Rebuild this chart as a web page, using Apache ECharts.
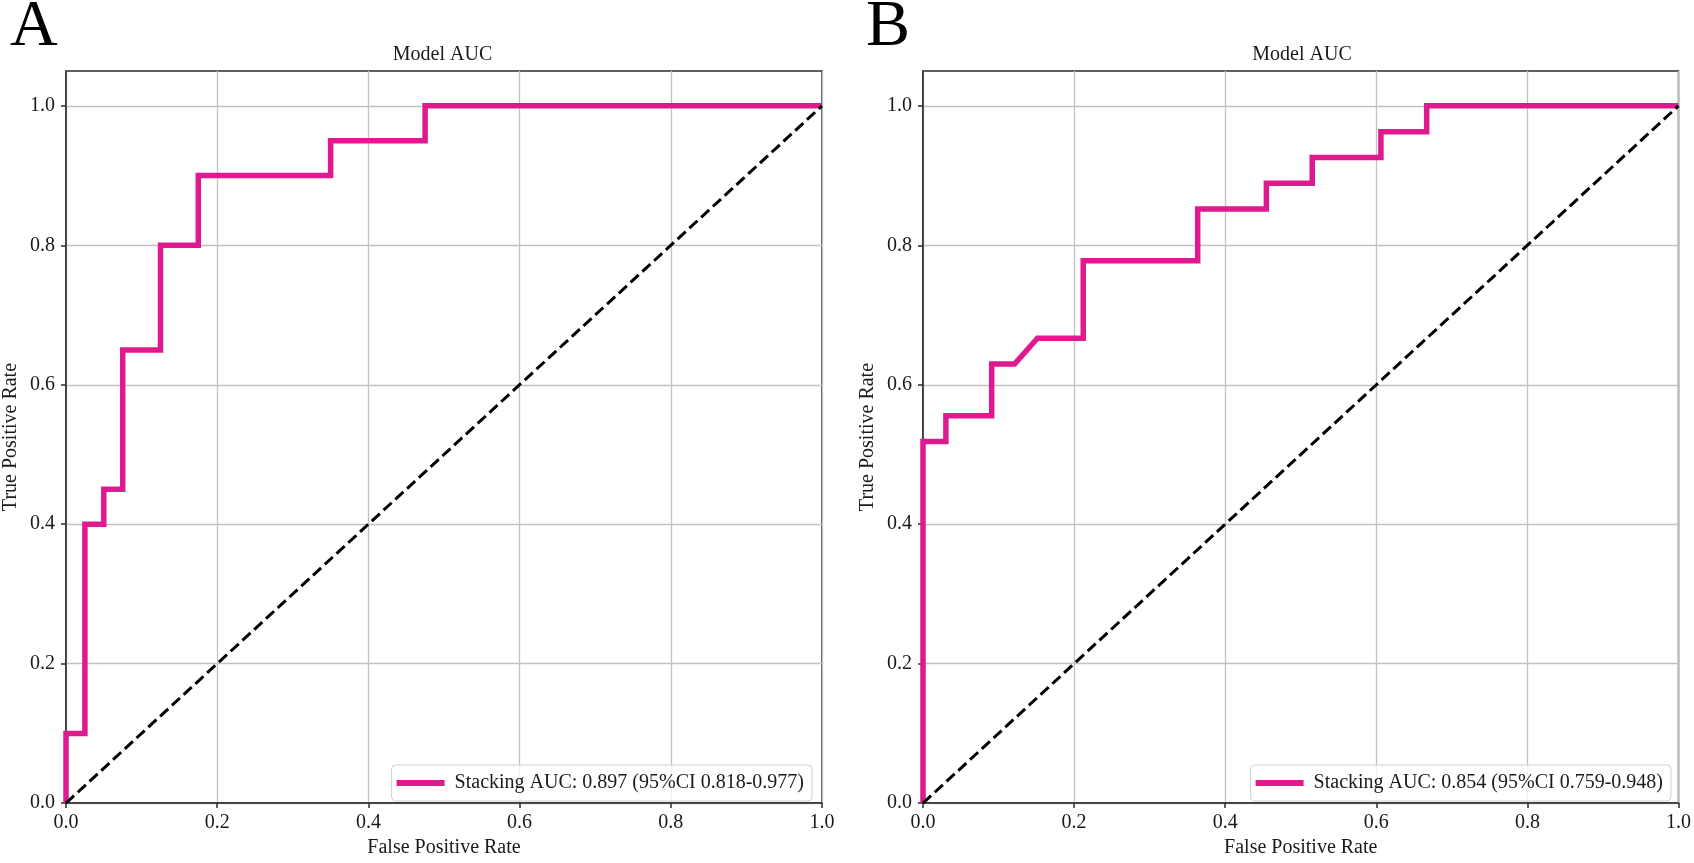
<!DOCTYPE html>
<html>
<head>
<meta charset="utf-8">
<script src="https://cdn.jsdelivr.net/npm/echarts@6/dist/echarts.min.js"></script>
<style>
html,body{margin:0;padding:0;background:#fff;}
#chart{width:1694px;height:863px;}
</style>
</head>
<body>
<div id="chart"></div>
<script>
// ---- data ----
const panelLetters = ['A', 'B'];
const panelTitles = ['Model AUC', 'Model AUC'];
const legendNames = [
  'Stacking AUC: 0.897 (95%CI 0.818-0.977)',
  'Stacking AUC: 0.854 (95%CI 0.759-0.948)'
];
const rocA_fpr = [0, 0, 0.025, 0.025, 0.05, 0.05, 0.075, 0.075, 0.125, 0.125, 0.175, 0.175, 0.35, 0.35, 0.475, 0.475, 1.0];
const rocA_tpr = [0, 0.1, 0.1, 0.4, 0.4, 0.45, 0.45, 0.65, 0.65, 0.8, 0.8, 0.9, 0.9, 0.95, 0.95, 1.0, 1.0];
const rocB_fpr = [0, 0, 0.0303, 0.0303, 0.0909, 0.0909, 0.1212, 0.1515, 0.2121, 0.2121, 0.3636, 0.3636, 0.4545, 0.4545, 0.5152, 0.5152, 0.6061, 0.6061, 0.6667, 0.6667, 1.0];
const rocB_tpr = [0, 0.5185, 0.5185, 0.5556, 0.5556, 0.6296, 0.6296, 0.6667, 0.6667, 0.7778, 0.7778, 0.8519, 0.8519, 0.8889, 0.8889, 0.9259, 0.9259, 0.963, 0.963, 1.0, 1.0];
const chanceX = [0, 1];
const chanceY = [0, 1];
const tickValues = [0, 0.2, 0.4, 0.6, 0.8, 1.0];
const xAxisName = 'False Positive Rate';
const yAxisName = 'True Positive Rate';

// ---- build ----
const FONT = 'Liberation Serif';
const PINK = '#de1a8e';
const grids = [
  {left: 63, top: 71, width: 759, height: 740},
  {left: 923, top: 71, width: 758, height: 740}
];
const zip = (xs, ys) => xs.map((x, i) => [x, ys[i]]);
const rocs = [zip(rocA_fpr, rocA_tpr), zip(rocB_fpr, rocB_tpr)];

function axisCommon(isX) {
  return {
    type: 'value',
    min: 0,
    max: isX ? 1.0 : 1.05,
    interval: 0.2,
    axisLine: {show: true, onZero: false, lineStyle: {color: '#2b2b2b', width: 1.5}},
    axisTick: {show: true, length: 5, customValues: tickValues, lineStyle: {color: '#2b2b2b', width: 1.5}},
    axisLabel: {
      customValues: tickValues,
      margin: isX ? 10 : 11,
      fontFamily: FONT, fontSize: 20, color: '#1a1a1a',
      formatter: v => v.toFixed(1)
    },
    splitLine: {show: true, lineStyle: {color: '#c2c2c2', width: 1.3}},
    name: isX ? xAxisName : yAxisName,
    nameLocation: 'middle',
    nameGap: isX ? 34 : 45,
    nameTextStyle: {fontFamily: FONT, fontSize: 20, color: '#1a1a1a'}
  };
}

const option = {
  animation: false,
  backgroundColor: '#ffffff',
  title: [],
  grid: grids.map(g => Object.assign({show: true, borderColor: '#2b2b2b', borderWidth: 1.5, backgroundColor: 'transparent'}, g)),
  xAxis: grids.map((g, i) => Object.assign(axisCommon(true), {gridIndex: i})),
  yAxis: grids.map((g, i) => Object.assign(axisCommon(false), {gridIndex: i})),
  legend: grids.map((g, i) => ({
    data: [legendNames[i]],
    right: 1694 - (g.left + g.width) + 10,
    bottom: 863 - (g.top + g.height) + 10,
    orient: 'vertical',
    icon: 'rect',
    itemWidth: 48,
    itemHeight: 6,
    padding: [8, 8, 8, 5],
    backgroundColor: 'rgba(255,255,255,0.8)',
    borderColor: '#d0d0d0',
    borderWidth: 1,
    borderRadius: 4,
    selectedMode: false,
    formatter: n => ' ' + n,
    textStyle: {fontFamily: FONT, fontSize: 20, color: '#1a1a1a'}
  })),
  series: []
};

grids.forEach((g, i) => {
  option.title.push({
    text: panelTitles[i],
    left: g.left + g.width / 2,
    top: 45,
    textAlign: 'center',
    padding: 0,
    textStyle: {fontFamily: FONT, fontSize: 20, fontWeight: 'normal', color: '#1a1a1a'}
  });
  option.title.push({
    text: panelLetters[i],
    left: i === 0 ? 10 : 866,
    top: -5,
    padding: 0,
    textStyle: {fontFamily: FONT, fontSize: 66, fontWeight: 'normal', color: '#000'}
  });
  option.series.push({
    name: legendNames[i],
    type: 'line',
    xAxisIndex: i, yAxisIndex: i,
    data: rocs[i],
    showSymbol: false, symbol: 'none',
    color: PINK,
    lineStyle: {color: PINK, width: 5.5, join: 'miter', cap: 'butt'},
    z: 3
  });
  option.series.push({
    name: 'chance' + i,
    type: 'line',
    xAxisIndex: i, yAxisIndex: i,
    data: zip(chanceX, chanceY),
    showSymbol: false, symbol: 'none',
    lineStyle: {color: '#000', width: 3, type: [11, 5]},
    z: 4
  });
});

const chart = echarts.init(document.getElementById('chart'));
chart.setOption(option);
</script>
</body>
</html>
